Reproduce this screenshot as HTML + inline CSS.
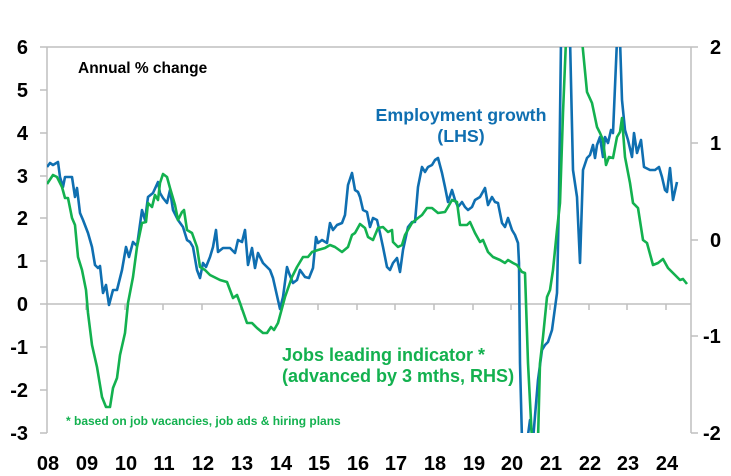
<!DOCTYPE html>
<html><head><meta charset="utf-8"><style>
html,body{margin:0;padding:0;background:#fff;}
svg{display:block;font-family:"Liberation Sans",Arial,sans-serif;font-weight:bold;}
</style></head><body>
<svg width="731" height="476" viewBox="0 0 731 476" xmlns="http://www.w3.org/2000/svg">
<defs><clipPath id="c"><rect x="47" y="47" width="644" height="386"/></clipPath></defs>
<g stroke="#bfbfbf" stroke-width="1.5" fill="none">
<line x1="47" y1="47" x2="691" y2="47"/>
<line x1="47" y1="47" x2="47" y2="433"/>
<line x1="691" y1="47" x2="691" y2="433"/>
<line x1="47" y1="304" x2="691" y2="304"/>
<path d="M40 47H47M40 90H47M40 133H47M40 176H47M40 218H47M40 261H47M40 304H47M40 347H47M40 390H47M40 433H47"/>
<path d="M691 47H698M691 143H698M691 240H698M691 336H698M691 433H698"/>
<path d="M86 304v6M125 304v6M163 304v6M202 304v6M241 304v6M280 304v6M318 304v6M357 304v6M395 304v6M434 304v6M473 304v6M511 304v6M550 304v6M589 304v6M627 304v6M666 304v6"/>
</g>
<g font-size="20" fill="#000" text-anchor="end">
<text x="28" y="54">6</text><text x="28" y="97">5</text><text x="28" y="140">4</text><text x="28" y="183">3</text><text x="28" y="225">2</text><text x="28" y="268">1</text><text x="28" y="311">0</text><text x="28" y="354">-1</text><text x="28" y="397">-2</text><text x="28" y="440">-3</text>
</g>
<g font-size="20" fill="#000">
<text x="710" y="54">2</text><text x="710" y="150">1</text><text x="710" y="247">0</text><text x="703" y="343">-1</text><text x="703" y="440">-2</text>
</g>
<g font-size="20" fill="#000" text-anchor="middle">
<text x="48" y="470">08</text><text x="87" y="470">09</text><text x="126" y="470">10</text><text x="164" y="470">11</text><text x="203" y="470">12</text><text x="242" y="470">13</text><text x="281" y="470">14</text><text x="319" y="470">15</text><text x="358" y="470">16</text><text x="396" y="470">17</text><text x="435" y="470">18</text><text x="474" y="470">19</text><text x="512" y="470">20</text><text x="551" y="470">21</text><text x="590" y="470">22</text><text x="628" y="470">23</text><text x="667" y="470">24</text>
</g>
<g clip-path="url(#c)" fill="none" stroke-width="2.6" stroke-linejoin="round">
<polyline stroke="#0f6fb1" points="47,167 50,163 53,165 58,162 60,177 63,187 65,177 68,177 72,177 75,197 77,188 80,213 83,220 88,233 92,247 95,265 98,268 100,266 103,293 106,285 109,305 113,290 117,290 122,270 126,247 129,257 133,242 137,246 142,210 145,220 148,197 153,193 158,182 160,193 163,198 167,203 170,190 173,210 178,220 183,227 187,240 190,242 193,247 197,270 200,278 203,263 206,267 210,257 213,247 216,230 218,252 223,248 230,248 235,253 238,240 242,242 245,230 248,265 252,248 255,268 258,253 263,263 270,270 273,278 280,309 283,297 287,267 289,273 293,283 297,280 300,270 305,277 309,278 313,268 316,237 318,243 322,240 327,243 330,223 333,230 337,225 342,223 345,215 348,185 352,173 355,190 358,192 360,197 363,210 367,212 370,227 373,218 377,220 380,233 383,247 387,267 390,270 393,263 397,258 400,272 403,250 408,227 412,222 415,222 418,187 422,167 425,172 428,167 432,165 435,160 438,158 442,173 445,187 448,202 452,190 455,200 458,207 462,202 465,207 468,210 472,207 475,200 480,197 485,188 488,205 492,197 495,202 498,203 502,223 505,227 508,218 512,230 515,235 518,243 519,263 520,363 522,440 526,450 530,420 533,440 538,380 542,350 545,345 548,342 552,330 557,293 559,197 561,40 568,-50 573,170 577,197 580,263 583,170 587,158 590,155 593,145 595,158 597,145 600,137 603,157 605,137 608,143 611,130 613,133 617,40 620,40 622,100 625,130 628,140 632,157 634,133 637,153 641,140 644,167 650,170 655,170 659,167 662,177 665,190 667,192 670,168 673,200 677,182"/>
<polyline stroke="#13b14f" points="47,184 53,175 57,177 62,187 65,198 68,198 72,218 75,225 78,257 82,270 86,290 88,313 92,345 97,367 102,397 106,407 110,407 113,388 117,378 120,355 125,333 128,303 133,277 137,247 142,223 146,222 148,203 152,207 155,195 158,200 160,183 163,174 167,177 170,188 175,205 178,220 182,212 184,210 187,230 192,233 197,247 200,267 205,270 210,275 220,280 227,282 230,290 233,298 237,295 240,303 247,323 252,323 257,328 263,333 267,333 271,327 274,330 278,323 285,297 292,277 297,267 303,257 308,257 312,252 318,250 325,248 330,245 335,247 342,252 348,247 352,235 355,233 360,224 365,228 368,237 373,240 378,228 383,227 388,232 392,230 393,242 398,247 402,245 405,235 412,223 418,218 422,215 427,208 432,208 438,213 445,212 448,207 452,200 457,202 460,225 467,225 470,222 475,233 480,242 483,240 488,252 493,257 500,260 505,263 508,260 513,263 517,265 522,272 525,273 528,363 532,440 535,450 538,440 540,363 543,337 547,297 550,290 553,270 557,230 560,203 563,113 566,40 574,-40 582,40 587,92 592,103 597,127 600,133 603,140 606,165 609,157 613,158 617,137 620,132 622,118 625,157 630,183 633,203 638,208 643,240 647,243 653,265 658,263 663,259 668,268 675,275 680,280 683,279 687,284"/>
</g>
<text x="78" y="73" font-size="15.5" fill="#000">Annual % change</text>
<g font-size="17.8" fill="#0f6fb1" text-anchor="middle">
<text x="461" y="121">Employment growth</text>
<text x="461" y="142">(LHS)</text>
</g>
<g font-size="18" fill="#13b14f">
<text x="282" y="361">Jobs leading indicator *</text>
<text x="282" y="382">(advanced by 3 mths, RHS)</text>
</g>
<text x="66" y="425" font-size="12" fill="#13b14f">* based on job vacancies, job ads &amp; hiring plans</text>
</svg>
</body></html>
